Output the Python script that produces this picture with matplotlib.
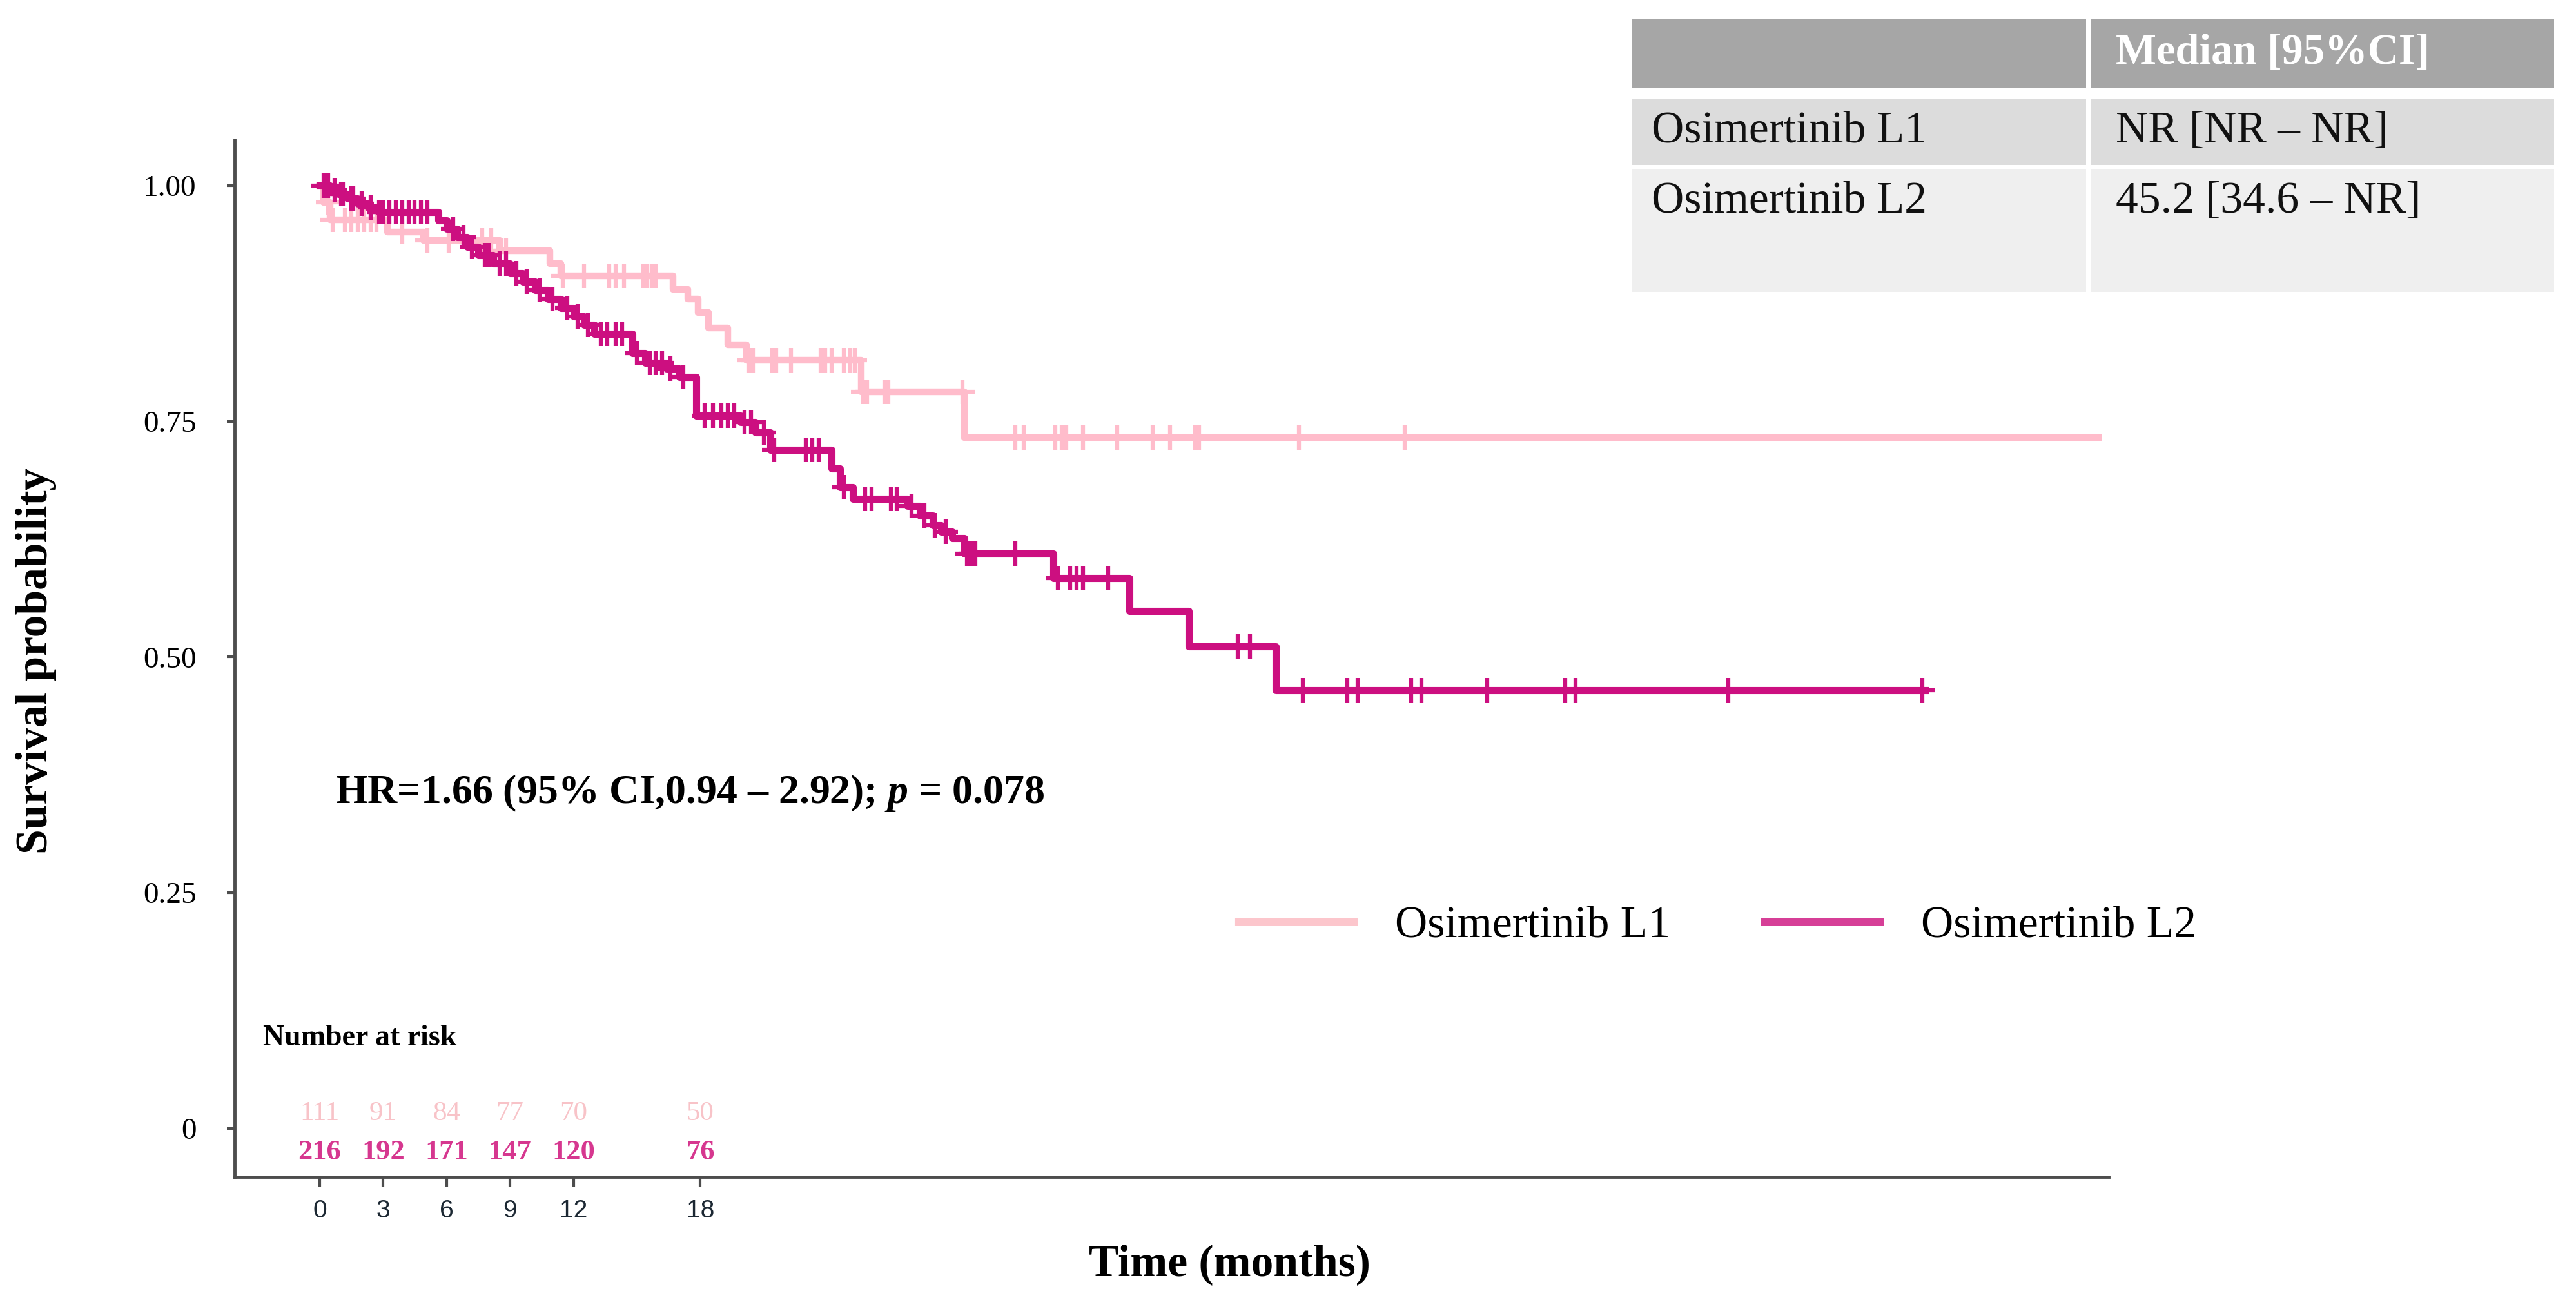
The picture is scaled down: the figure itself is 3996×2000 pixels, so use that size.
import matplotlib.pyplot as plt
from matplotlib.lines import Line2D
from matplotlib.patches import Rectangle
import numpy as np

plt.rcParams['font.family'] = ['Liberation Serif', 'DejaVu Serif']
plt.rcParams['mathtext.fontset'] = 'custom'
plt.rcParams['mathtext.it'] = 'Liberation Serif:italic:bold'
plt.rcParams['mathtext.rm'] = 'Liberation Serif:bold'

# Kaplan-Meier step data (months, survival)
l1_time = [0, 0.2, 0.5, 3.2, 4.9, 8.5, 10.9, 11.4, 16.7, 17.4, 17.9, 18.4, 19.3, 20.2, 25.6, 30.5, 84.1]
l1_surv = [1.0, 0.982, 0.964, 0.951, 0.942, 0.931, 0.917, 0.904, 0.890, 0.880, 0.865, 0.849, 0.831, 0.815,
           0.781, 0.733, 0.733]

l2_time = [0, 0.5, 0.9, 1.3, 1.8, 2.3, 2.8, 5.6, 6.0, 6.5, 7.0, 7.5, 8.2, 9.0, 9.6, 10.2, 10.8, 11.4, 12.0,
           12.5, 13.0, 14.8, 15.4, 16.4, 17.0, 17.8, 19.9, 20.6, 21.3, 24.2, 24.6, 25.2, 27.8, 28.4, 29.0,
           29.4, 29.9, 30.5, 34.7, 38.3, 41.1, 45.2, 75.9]
l2_surv = [1.0, 0.995, 0.991, 0.986, 0.981, 0.977, 0.972, 0.963, 0.954, 0.945, 0.935, 0.926, 0.917, 0.907,
           0.898, 0.889, 0.880, 0.870, 0.861, 0.852, 0.843, 0.822, 0.812, 0.806, 0.797, 0.756, 0.749, 0.738,
           0.720, 0.700, 0.680, 0.668, 0.660, 0.650, 0.640, 0.633, 0.626, 0.610, 0.584, 0.549, 0.511, 0.465,
           0.465]

# censoring times
l1_cens = [0.4, 0.6, 1.2, 1.5, 1.8, 2.1, 2.4, 2.7, 3.9, 5.1, 6.1, 7.7, 8.1, 8.5, 8.8, 11.5, 12.5, 13.7,
           14.0, 14.4, 15.3, 15.5, 15.7, 15.9, 20.3, 20.5, 21.4, 21.6, 22.3, 23.7, 23.9, 24.2, 24.8, 25.1,
           25.3, 25.7, 25.9, 26.7, 26.9, 30.4, 32.9, 33.3, 34.8, 35.1, 35.3, 36.1, 37.7, 39.4, 40.2, 41.4,
           41.6, 46.3, 51.3]
l2_cens = [0.2, 0.4, 0.7, 1.0, 1.1, 1.5, 1.6, 2.0, 2.4, 2.8, 3.0, 3.3, 3.6, 3.9, 4.2, 4.5, 4.8, 5.1, 6.3,
           6.8, 7.2, 7.8, 8.0, 8.5, 8.8, 9.3, 9.8, 10.4, 11.0, 11.7, 12.2, 12.7, 13.3, 13.6, 14.0, 14.3,
           15.0, 15.6, 15.9, 16.2, 16.6, 17.2, 18.2, 18.6, 19.0, 19.3, 19.6, 20.1, 20.4, 21.0, 21.5, 23.0,
           23.3, 23.6, 24.8, 25.8, 26.1, 27.0, 27.3, 28.0, 28.6, 29.1, 29.6, 30.6, 30.8, 31.0, 32.9, 34.9,
           35.5, 35.8, 36.1, 37.3, 43.4, 44.0, 46.5, 48.6, 49.1, 51.6, 52.1, 55.2, 58.9, 59.4, 66.6, 75.8]

# number at risk
risk_times = [0, 3, 6, 9, 12, 18]
risk_l1 = [111, 91, 84, 77, 70, 50]
risk_l2 = [216, 192, 171, 147, 120, 76]

group_names = ['Osimertinib L1', 'Osimertinib L2']
table_header = ['', 'Median [95%CI]']
table_rows = [['Osimertinib L1', 'NR [NR \u2013 NR]'],
              ['Osimertinib L2', '45.2 [34.6 \u2013 NR]']]

c1 = '#ffbccb'
c2 = '#cc0f80'
leg_c1 = '#fcc6cc'
leg_c2 = '#d63f97'

W, H = 3996, 2000


def fx(x):
    return x / W


def fy(y):
    return 1 - y / H


def surv_at(times, surv, t):
    idx = np.searchsorted(times, t, side='right') - 1
    return np.asarray(surv)[idx]


fig = plt.figure(figsize=(39.96, 20), dpi=100)
ax = fig.add_axes([fx(364), fy(1826), fx(3271) - fx(364), fy(217) - fy(1826)])

ax.step(l1_time, l1_surv, where='post', color=c1, lw=7.5, zorder=2)
ax.step(l2_time, l2_surv, where='post', color=c2, lw=8, zorder=3)
ax.plot(l1_cens, surv_at(l1_time, l1_surv, l1_cens), ls='none', marker='+', ms=27, mew=4.5,
        color=c1, zorder=2)
ax.plot(l2_cens, surv_at(l2_time, l2_surv, l2_cens), ls='none', marker='+', ms=27, mew=4.5,
        color=c2, zorder=3)

ax.set_xlim(-4.02, 84.6)
ax.set_ylim(-0.0513, 1.0485)

for s in ['top', 'right']:
    ax.spines[s].set_visible(False)
for s in ['left', 'bottom']:
    ax.spines[s].set_color('#4d4d4d')
    ax.spines[s].set_linewidth(3.5)

ax.set_yticks([0, 0.25, 0.5, 0.75, 1.0])
ax.set_yticklabels(['0', '0.25', '0.50', '0.75', '1.00'])
ax.set_xticks(risk_times)
ax.set_xticklabels([str(t) for t in risk_times])
ax.tick_params(axis='y', length=8.6, width=3, pad=34, labelsize=34, color='#4d4d4d')
ax.tick_params(axis='x', length=11.5, width=3, pad=14, labelsize=28, color='#4d4d4d',
               labelcolor='#1c2833')
for lbl in ax.get_xticklabels():
    lbl.set_family('Liberation Sans')

ax.set_ylabel('Survival probability', fontsize=50, fontweight='bold', va='center')
ax.yaxis.set_label_coords(-0.106, 0.4975)
ax.set_xlabel('Time (months)', fontsize=50, fontweight='bold', va='center')
ax.xaxis.set_label_coords(0.531, -0.0845)

ax.text(0.73, 0.356, 'HR=1.66 (95% CI,0.94 \u2013 2.92); $p$ = 0.078', fontsize=46,
        fontweight='bold', va='center')

# number at risk
ax.text(-2.68, 0.096, 'Number at risk', fontsize=33, fontweight='bold', va='center')
for t, n in zip(risk_times, risk_l1):
    ax.text(t, 0.016, str(n), ha='center', va='center', fontsize=31, color='#f8c3c8')
for t, n in zip(risk_times, risk_l2):
    ax.text(t, -0.025, str(n), ha='center', va='center', fontsize=32, fontweight='bold',
            color='#d6378f')

# legend
handles = [Line2D([], [], color=leg_c1, lw=8), Line2D([], [], color=leg_c2, lw=8)]
fig.legend(handles, group_names, loc='center left', bbox_to_anchor=(fx(1921), fy(1437)), ncol=2,
           frameon=False, fontsize=50, handlelength=2.58, handletextpad=0.92, columnspacing=2.1,
           borderpad=0, borderaxespad=0)

# median table
col_x = [(2532, 3236), (3244, 3962)]
row_y = [(30, 137), (153, 256), (262, 453)]
row_col = ['#a6a6a6', '#dcdcdc', '#efefef']
text_y = [83, 204, 313]
text_x = [2562, 3282]
for r, (y0, y1) in enumerate(row_y):
    for (x0, x1) in col_x:
        fig.add_artist(Rectangle((fx(x0), fy(y1)), fx(x1) - fx(x0), fy(y0) - fy(y1),
                                 transform=fig.transFigure, facecolor=row_col[r], edgecolor='none'))
for c, txt in enumerate(table_header):
    fig.text(fx(text_x[c]), fy(text_y[0]), txt, fontsize=48, fontweight='bold', color='white',
             va='center', ha='left')
for r, row in enumerate(table_rows):
    for c, txt in enumerate(row):
        fig.text(fx(text_x[c]), fy(text_y[r + 1]), txt, fontsize=50, color='#111111',
                 va='center', ha='left')

fig.savefig('out.png', dpi=100, facecolor='white')
